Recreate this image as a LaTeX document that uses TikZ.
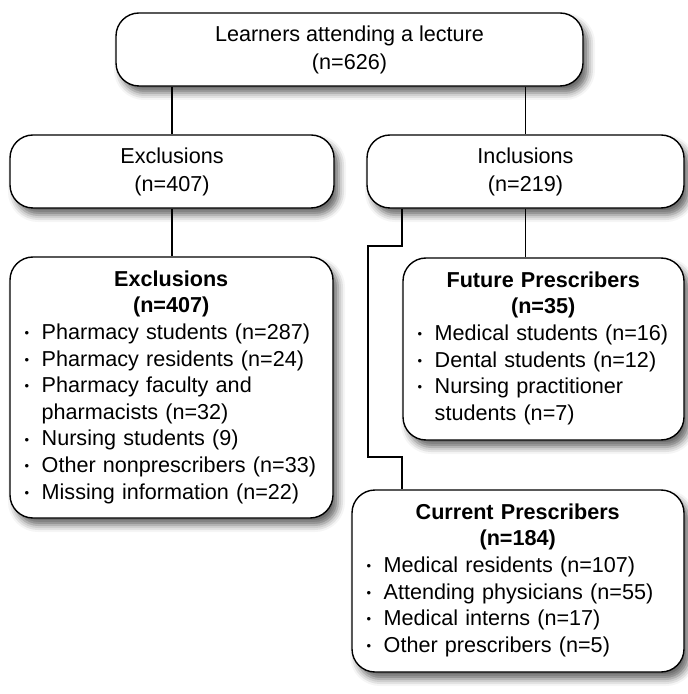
\documentclass[tikz,border=0pt]{standalone}
\usepackage{fontspec}
\setmainfont{Liberation Sans}
\usetikzlibrary{shadows.blur}
\usetikzlibrary{positioning}

\newcommand{\bul}{\makebox[8.5pt][l]{\raisebox{0.9pt}{\scalebox{0.6}{\textbullet}}}}
\newcommand{\cont}{\hspace*{8.5pt}}

\begin{document}
\begin{tikzpicture}[x=0.5pt, y=-0.5pt,
    every node/.style={font=\fontsize{10.8}{13.3}\selectfont},
    box/.style={draw, rounded corners=11.5pt, line width=0.7pt, fill=white,
        blur shadow={shadow xshift=2.5pt, shadow yshift=-3.5pt, shadow blur radius=3.5pt, shadow opacity=60}},
    titlebox/.style={box, align=center, minimum height=36.5pt, font=\fontsize{10.8}{14}\selectfont},
    list/.style={anchor=base west, text width=#1, inner sep=0pt, align=left}]

    \useasboundingbox (0,0) rectangle (687,694);

    % boxes
    \node(learners)[titlebox, minimum width=233.5pt] at (349.5,49.5) {Learners attending a lecture\\(n=626)};
    \node(excl)[titlebox, minimum width=162pt] at (172,171.5) {Exclusions\\(n=407)};
    \node(incl)[titlebox, minimum width=158.5pt] at (525.5,171.5) {Inclusions\\(n=219)};
    \node(exclbox)[box, minimum width=161.5pt, minimum height=130.5pt] at (171.5,387.5) {};
    \node(future)[box, minimum width=140.5pt, minimum height=91pt] at (543.5,349) {};
    \node(current)[box, minimum width=166pt, minimum height=91pt] at (518,581) {};

    % box texts
    \node(excltext)[list=146.5pt] at ([xshift=7.5pt, yshift=-15pt]exclbox.north west) {%
        {\centering\bfseries Exclusions\\(n=407)\par}
        \bul Pharmacy students (n=287)\\
        \bul Pharmacy residents (n=24)\\
        \bul Pharmacy faculty and\\
        \cont pharmacists (n=32)\\
        \bul Nursing students (9)\\
        \bul Other nonprescribers (n=33)\\
        \bul Missing information (n=22)};
    \node(futuretext)[list=125.5pt] at ([xshift=7.5pt, yshift=-15pt]future.north west) {%
        {\centering\bfseries Future Prescribers\\(n=35)\par}
        \bul Medical students (n=16)\\
        \bul Dental students (n=12)\\
        \bul Nursing practitioner\\
        \cont students (n=7)};
    \node(currenttext)[list=151pt] at ([xshift=7.5pt, yshift=-15pt]current.north west) {%
        {\centering\bfseries Current Prescribers\\(n=184)\par}
        \bul Medical residents (n=107)\\
        \bul Attending physicians (n=55)\\
        \bul Medical interns (n=17)\\
        \bul Other prescribers (n=5)};

    % connectors
    \coordinate(branch) at (402,0);
    \coordinate(jogtop) at (368,246);
    \coordinate(jogbot) at (368,457);

    \begin{scope}[line width=0.7pt]
    \draw (learners.south -| excl.north) -- (excl.north);
    \draw (learners.south -| incl.north) -- (incl.north);
    \draw (excl.south) -- (excl.south |- exclbox.north);
    \draw (incl.south) -- (incl.south |- future.north);
    \draw (incl.south -| branch) |- (jogtop) -- (jogbot) -| (current.north -| branch);
    \end{scope}

\end{tikzpicture}
\end{document}
